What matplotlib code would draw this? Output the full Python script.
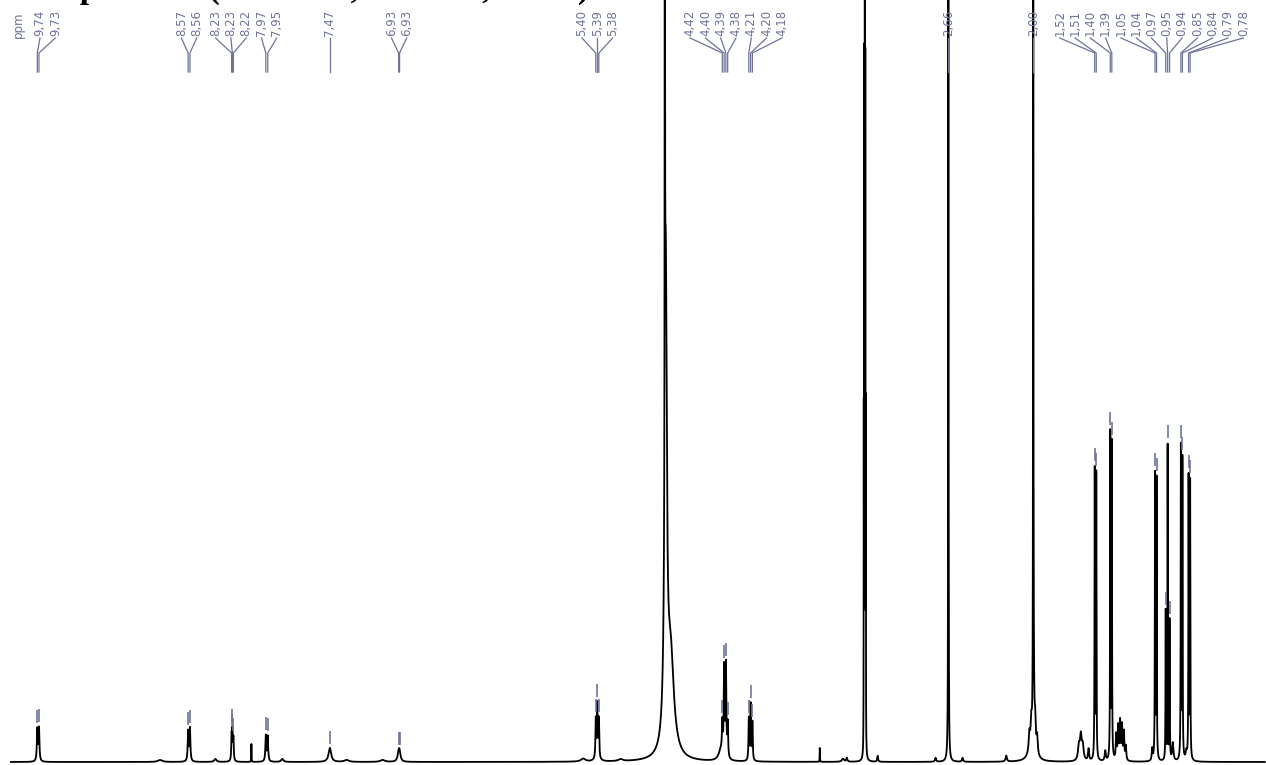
import numpy as np
import matplotlib
matplotlib.use('Agg')
import matplotlib.pyplot as plt

W, H = 1266, 765

# peak list: position (ppm), height (a.u.), half width (ppm)
peak_ppm = [9.745, 9.732, 8.79, 8.572, 8.558, 8.36, 8.234, 8.228, 8.220, 8.080,
            7.968, 7.953, 7.84, 7.470, 7.34, 7.06, 6.935, 6.928,
            5.50, 5.402, 5.390, 5.378, 5.390, 5.21,
            4.865, 4.858, 4.820,
            4.418, 4.404, 4.390, 4.376, 4.430, 4.212, 4.198, 4.184,
            3.66, 3.48, 3.45, 3.318, 3.314, 3.310, 3.306, 3.302, 3.21,
            2.76, 2.660, 2.55, 2.21,
            2.000, 2.030, 2.015, 1.995, 1.985, 1.970, 2.010,
            1.645, 1.630, 1.615, 1.57, 1.522, 1.510, 1.44, 1.401, 1.389,
            1.355, 1.340, 1.325, 1.310, 1.295, 1.280,
            1.075, 1.053, 1.041, 0.970, 0.955, 0.940, 0.915,
            0.852, 0.840, 0.81, 0.792, 0.780]
peak_height = [32, 33, 2, 30, 33, 3, 24, 28, 22, 18,
               26, 25, 3, 14, 2, 2, 8, 8,
               3, 38, 50, 38, 6, 2,
               2000, 470, 100,
               30, 88, 92, 34, 10, 42, 56, 38,
               14, 3, 4, 330, 660, 990, 660, 330, 6,
               4, 1500, 4, 6,
               1500, 18, 25, 35, 28, 18, 12,
               14, 24, 14, 12, 290, 285, 10, 325, 315,
               25, 33, 38, 34, 28, 14,
               12, 285, 280, 150, 315, 140, 18,
               312, 300, 8, 282, 278]
peak_hwhm = [0.004, 0.004, 0.02, 0.004, 0.004, 0.01, 0.003, 0.003, 0.003, 0.0012,
             0.004, 0.004, 0.01, 0.012, 0.02, 0.02, 0.009, 0.009,
             0.02, 0.003, 0.003, 0.003, 0.015, 0.02,
             0.0008, 0.010, 0.030,
             0.0035, 0.0035, 0.0035, 0.0035, 0.02, 0.003, 0.003, 0.003,
             0.0012, 0.01, 0.005, 0.0008, 0.0008, 0.0008, 0.0008, 0.0008, 0.004,
             0.005, 0.0012, 0.005, 0.006,
             0.0012, 0.006, 0.006, 0.005, 0.005, 0.006, 0.03,
             0.008, 0.008, 0.008, 0.005, 0.0018, 0.0018, 0.005, 0.0018, 0.0018,
             0.004, 0.004, 0.004, 0.004, 0.004, 0.004,
             0.004, 0.0018, 0.0018, 0.0018, 0.0012, 0.0018, 0.006,
             0.0018, 0.0018, 0.006, 0.0018, 0.0018]

# picked peaks (labels at top)
label_ppm = [9.745, 9.732, 8.572, 8.558, 8.234, 8.228, 8.220, 7.968, 7.953,
             7.470, 6.935, 6.928, 5.402, 5.390, 5.378,
             4.418, 4.404, 4.390, 4.376, 4.212, 4.198, 4.184, 2.660, 2.000,
             1.522, 1.510, 1.401, 1.389, 1.053, 1.041, 0.970, 0.955, 0.940,
             0.852, 0.840, 0.792, 0.780]
label_text = ['9,74', '9,73', '8,57', '8,56', '8,23', '8,23', '8,22', '7,97', '7,95',
              '7,47', '6,93', '6,93', '5,40', '5,39', '5,38',
              '4,42', '4,40', '4,39', '4,38', '4,21', '4,20', '4,18', '2,66', '2,00',
              '1,52', '1,51', '1,40', '1,39', '1,05', '1,04', '0,97', '0,95', '0,94',
              '0,85', '0,84', '0,79', '0,78']

title = '¹H NMR spectrum (400 MHz, CD3OD, 25 °C)'

pk_x = np.array(peak_ppm)
pk_h = np.array(peak_height, dtype=float)
pk_w = np.array(peak_hwhm)


def spectrum(x):
    x = np.atleast_1d(x)[:, None]
    return (pk_h * pk_w**2 / ((x - pk_x)**2 + pk_w**2)).sum(axis=1)


ppm = np.linspace(9.95, 0.2, 40000)
inten = spectrum(ppm)

slate = '#6f7399'

fig = plt.figure(figsize=(W / 100, H / 100), dpi=100)
ax = fig.add_axes([0, 0, 1, 1])
ax.set_xlim(10.035, 0.19)
ax.set_ylim(-3, 762)
ax.axis('off')

ax.plot(ppm, inten, color='black', lw=1.3)

# little marks above the picked peaks
tick_base = spectrum(np.array(label_ppm))
for p, v in zip(label_ppm, tick_base):
    ax.plot([p, p], [v + 4, v + 17], color=slate, lw=1.2, solid_capstyle='butt')

# label positions: spread overlapping ones evenly round their peaks
peak_px = [ax.transData.transform((p, 0))[0] for p in label_ppm]
gap = 15.3
clusters = [[i] for i in range(len(peak_px))]


def place(c):
    centre = np.mean([peak_px[i] for i in c])
    start = max(centre - (len(c) - 1) * gap / 2, 40)
    return [start + k * gap for k in range(len(c))]


merged = True
while merged:
    merged = False
    for j in range(len(clusters) - 1):
        if place(clusters[j + 1])[0] < place(clusters[j])[-1] + gap:
            clusters[j] = clusters[j] + clusters[j + 1]
            del clusters[j + 1]
            merged = True
            break

label_px = []
for c in clusters:
    label_px += place(c)

for lx, px, txt in zip(label_px, peak_px, label_text):
    fig.text(lx / W, 1 - 36 / H, txt, rotation=90, ha='center', va='bottom',
             fontsize=8.5, color=slate)
    ax.plot([lx / W, px / W, px / W], [1 - 38 / H, 1 - 53 / H, 1 - 72 / H],
            transform=fig.transFigure, color=slate, lw=0.9, clip_on=False)

fig.text(18 / W, 1 - 38 / H, 'ppm', rotation=90, ha='center', va='bottom',
         fontsize=8.5, color=slate)

# title sits mostly above the top edge, as in the cropped original
fig.text(-66 / W, 1 + 2 / H, title, family=['Liberation Serif', 'DejaVu Serif'],
         fontweight='bold', fontsize=24, va='baseline', ha='left', color='black')

fig.savefig('out.png', dpi=100)
